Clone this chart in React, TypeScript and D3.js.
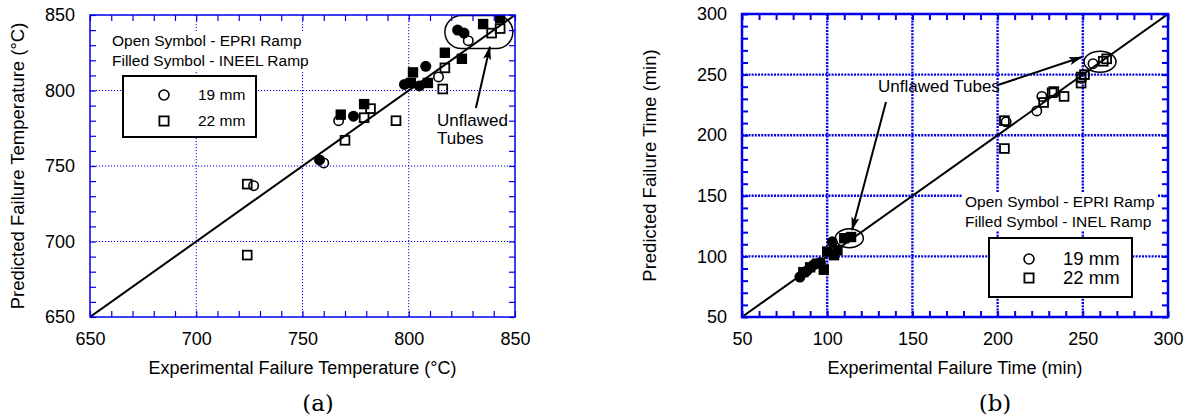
import React, { useEffect, useRef } from "react";
import * as d3 from "d3";

type Pt = [number, number];

// (a) failure temperature, predicted vs experimental (°C)
const tempOpenCircles: Pt[] = [[727, 737], [760, 752], [767, 780], [814, 809], [828, 833]];
const tempOpenSquares: Pt[] = [
	[724, 738], [724, 691], [770, 767], [779, 782], [782, 788],
	[794, 780], [816, 801], [817, 815], [839, 838], [843, 841],
];
const tempFilledCircles: Pt[] = [[758, 754], [774, 783], [798, 804], [805, 803], [808, 816], [823, 840], [826, 838]];
const tempFilledSquares: Pt[] = [
	[768, 784], [779, 791], [802, 812], [801, 805], [809, 805],
	[817, 825], [825, 821], [835, 844], [843, 848],
];

// (b) failure time, predicted vs experimental (min)
const timeOpenCircles: Pt[] = [[205, 211], [223, 220], [226, 232], [249, 247], [256, 259]];
const timeOpenSquares: Pt[] = [
	[204, 212], [204, 189], [227, 227], [232, 235], [233, 236], [239, 232],
	[249, 248], [251, 250], [249, 243], [262, 261], [264, 263],
];
const timeFilledCircles: Pt[] = [[84, 83], [88, 88], [92, 93], [96, 95], [103, 112]];
const timeFilledSquares: Pt[] = [
	[86, 87], [90, 91], [94, 94], [98, 89], [100, 104],
	[104, 101], [106, 105], [110, 115], [114, 116],
];

const legendLabels = ["19 mm", "22 mm"];

const FONT = "'Liberation Sans', Arial, sans-serif";
const BLUE = "#0000e8";

interface Panel {
	left: number; right: number; top: number; bottom: number;
	domain: [number, number]; major: number; minor: number;
	gridWidth: number; gridDash: string; frameWidth: number; tickWidth: number;
	xTitle: string; yTitle: string; yTitleX: number; tag: string; tagX: number;
	openCircles: Pt[]; openSquares: Pt[]; filledCircles: Pt[]; filledSquares: Pt[];
	notes: string[]; noteX: number; noteY: number;
	legend: { x: number; y: number; w: number; h: number; symX: number; textX: number; fontSize: number; rows: number[] };
	// unflawed-tube annotations, in data units
	rings: { cx: number; cy: number; rx: number; ry: number; round: boolean }[];
	arrows: [Pt, Pt][];
	callout: { lines: string[]; at: Pt; lineGap: number };
}

const panels: Panel[] = [
	{
		left: 90, right: 515, top: 15, bottom: 317,
		domain: [650, 850], major: 50, minor: 10,
		gridWidth: 1, gridDash: "1.2,1.8", frameWidth: 1.5, tickWidth: 1.2,
		xTitle: "Experimental Failure Temperature (°C)",
		yTitle: "Predicted Failure Temperature (°C)",
		yTitleX: 24, tag: "(a)", tagX: 318,
		openCircles: tempOpenCircles, openSquares: tempOpenSquares,
		filledCircles: tempFilledCircles, filledSquares: tempFilledSquares,
		notes: ["Open Symbol - EPRI Ramp", "Filled Symbol - INEEL Ramp"],
		noteX: 112, noteY: 46,
		legend: { x: 123, y: 76, w: 133, h: 61, symX: 164, textX: 198, fontSize: 15.5, rows: [95, 121] },
		rings: [{ cx: 833, cy: 838.7, rx: 16, ry: 10.9, round: true }],
		arrows: [[[831.6, 788.4], [838.2, 829]]],
		callout: { lines: ["Unflawed", "Tubes"], at: [813.3, 776.5], lineGap: 18 },
	},
	{
		left: 742, right: 1168, top: 14, bottom: 317,
		domain: [50, 300], major: 50, minor: 10,
		gridWidth: 2.4, gridDash: "2,1.2", frameWidth: 2.5, tickWidth: 2,
		xTitle: "Experimental Failure Time (min)",
		yTitle: "Predicted Failure Time (min)",
		yTitleX: 656, tag: "(b)", tagX: 995,
		openCircles: timeOpenCircles, openSquares: timeOpenSquares,
		filledCircles: timeFilledCircles, filledSquares: timeFilledSquares,
		notes: ["Open Symbol - EPRI Ramp", "Filled Symbol - INEL Ramp"],
		noteX: 965, noteY: 207,
		legend: { x: 989, y: 238, w: 143, h: 59, symX: 1029, textX: 1063, fontSize: 18.5, rows: [259, 278] },
		rings: [
			{ cx: 113, cy: 115, rx: 8.2, ry: 7.8, round: false },
			{ cx: 260.1, cy: 260.6, rx: 9.4, ry: 8.7, round: false },
		],
		arrows: [
			[[200.2, 241.4], [249.5, 264.5]],
			[[134.5, 227.4], [114.6, 121.8]],
		],
		callout: { lines: ["Unflawed Tubes"], at: [129.8, 235.6], lineGap: 0 },
	},
];

function drawPanel(svg: d3.Selection<SVGSVGElement, unknown, null, undefined>, p: Panel, idx: number) {
	const x = d3.scaleLinear().domain(p.domain).range([p.left, p.right]);
	const y = d3.scaleLinear().domain(p.domain).range([p.bottom, p.top]);
	const minorTicks = d3.range(p.domain[0], p.domain[1] + 0.01, p.minor);
	const majorTicks = d3.range(p.domain[0], p.domain[1] + 0.01, p.major);
	const g = svg.append("g");

	const clipId = `clip-${idx}`;
	g.append("clipPath").attr("id", clipId)
		.append("rect")
		.attr("x", p.left).attr("y", p.top)
		.attr("width", p.right - p.left).attr("height", p.bottom - p.top);

	// dotted grid at the major ticks
	g.selectAll(".gx").data(majorTicks.slice(1, -1)).join("line")
		.attr("x1", d => x(d)).attr("x2", d => x(d))
		.attr("y1", p.top).attr("y2", p.bottom)
		.attr("stroke", BLUE).attr("stroke-width", p.gridWidth).attr("stroke-dasharray", p.gridDash);
	g.selectAll(".gy").data(majorTicks.slice(1, -1)).join("line")
		.attr("y1", d => y(d)).attr("y2", d => y(d))
		.attr("x1", p.left).attr("x2", p.right)
		.attr("stroke", BLUE).attr("stroke-width", p.gridWidth).attr("stroke-dasharray", p.gridDash);

	// note text, white box behind it hides the grid
	const notes = g.append("g").style("font-family", FONT).style("font-size", "15.5px");
	const texts = notes.selectAll("text").data(p.notes).join("text")
		.attr("x", p.noteX).attr("y", (_, i) => p.noteY + i * 20).text(d => d);
	const boxes = texts.nodes().map(n => (n as SVGTextElement).getBBox());
	const bx0 = d3.min(boxes, b => b.x)! - 3;
	const bx1 = d3.max(boxes, b => b.x + b.width)! + 3;
	const by0 = d3.min(boxes, b => b.y)! - 1;
	const by1 = d3.max(boxes, b => b.y + b.height)! + 1;
	notes.insert("rect", "text").attr("x", bx0).attr("y", by0)
		.attr("width", bx1 - bx0).attr("height", by1 - by0).attr("fill", "#fff");

	const plot = g.append("g").attr("clip-path", `url(#${clipId})`);

	// 1:1 line
	plot.append("path")
		.datum([p.domain[0], p.domain[1]])
		.attr("fill", "none").attr("stroke", "#000").attr("stroke-width", 2)
		.attr("d", d3.line<number>().x(d => x(d)).y(d => y(d)));

	// unflawed tubes ring + arrows + label
	p.rings.forEach(r => {
		const w = x(r.cx + r.rx) - x(r.cx - r.rx);
		const h = y(r.cy - r.ry) - y(r.cy + r.ry);
		if (r.round) {
			plot.append("rect")
				.attr("x", x(r.cx - r.rx)).attr("y", y(r.cy + r.ry))
				.attr("width", w).attr("height", h).attr("rx", h / 2)
				.attr("fill", "none").attr("stroke", "#000").attr("stroke-width", 1.5);
		} else {
			plot.append("ellipse")
				.attr("cx", x(r.cx)).attr("cy", y(r.cy)).attr("rx", w / 2).attr("ry", h / 2)
				.attr("fill", "none").attr("stroke", "#000").attr("stroke-width", 1.5);
		}
	});
	p.arrows.forEach(([a, b]) => {
		g.append("line")
			.attr("x1", x(a[0])).attr("y1", y(a[1]))
			.attr("x2", x(b[0])).attr("y2", y(b[1]))
			.attr("stroke", "#000").attr("stroke-width", 2)
			.attr("marker-end", "url(#arrowhead)");
	});
	g.append("g").style("font-family", FONT).style("font-size", "17px")
		.selectAll("text").data(p.callout.lines).join("text")
		.attr("x", x(p.callout.at[0]))
		.attr("y", (_, i) => y(p.callout.at[1]) + i * p.callout.lineGap)
		.text(d => d);

	// markers: filled first, open outlines on top
	const half = 5.2;
	plot.selectAll(".fs").data(p.filledSquares).join("rect")
		.attr("x", d => x(d[0]) - half).attr("y", d => y(d[1]) - half)
		.attr("width", half * 2).attr("height", half * 2).attr("fill", "#000");
	plot.selectAll(".fc").data(p.filledCircles).join("circle")
		.attr("cx", d => x(d[0])).attr("cy", d => y(d[1])).attr("r", half + 0.3).attr("fill", "#000");
	plot.selectAll(".os").data(p.openSquares).join("rect")
		.attr("x", d => x(d[0]) - half + 0.8).attr("y", d => y(d[1]) - half + 0.8)
		.attr("width", half * 2 - 1.6).attr("height", half * 2 - 1.6)
		.attr("fill", "none").attr("stroke", "#000").attr("stroke-width", 1.8);
	plot.selectAll(".oc").data(p.openCircles).join("circle")
		.attr("cx", d => x(d[0])).attr("cy", d => y(d[1])).attr("r", half - 0.5)
		.attr("fill", "none").attr("stroke", "#000").attr("stroke-width", 1.6);

	// legend box
	const lg = g.append("g");
	lg.append("rect").attr("x", p.legend.x).attr("y", p.legend.y)
		.attr("width", p.legend.w).attr("height", p.legend.h)
		.attr("fill", "#fff").attr("stroke", "#000").attr("stroke-width", 2);
	lg.append("circle").attr("cx", p.legend.symX).attr("cy", p.legend.rows[0]).attr("r", 5)
		.attr("fill", "none").attr("stroke", "#000").attr("stroke-width", 1.6);
	lg.append("rect").attr("x", p.legend.symX - 4.6).attr("y", p.legend.rows[1] - 4.6)
		.attr("width", 9.2).attr("height", 9.2)
		.attr("fill", "none").attr("stroke", "#000").attr("stroke-width", 1.8);
	lg.selectAll("text").data(legendLabels).join("text")
		.attr("x", p.legend.textX).attr("y", (_, i) => p.legend.rows[i])
		.attr("dy", "0.35em")
		.style("font-family", FONT).style("font-size", `${p.legend.fontSize}px`)
		.text(d => d);

	// frame
	g.append("rect")
		.attr("x", p.left).attr("y", p.top)
		.attr("width", p.right - p.left).attr("height", p.bottom - p.top)
		.attr("fill", "none").attr("stroke", BLUE).attr("stroke-width", p.frameWidth);

	// inward ticks on all four sides, labels only on the majors
	const label = (d: d3.NumberValue) => (+d % p.major === 0 ? String(d) : "");
	const style = (sel: d3.Selection<SVGGElement, unknown, null, undefined>) => {
		sel.attr("font-family", FONT).attr("font-size", 18);
		sel.select(".domain").remove();
		sel.selectAll(".tick line").attr("stroke", BLUE).attr("stroke-width", p.tickWidth);
		sel.selectAll(".tick text").attr("fill", "#000");
	};
	g.append("g").attr("transform", `translate(0,${p.bottom})`)
		.call(d3.axisBottom(x).tickValues(minorTicks).tickSize(-6).tickSizeOuter(0).tickPadding(15).tickFormat(label))
		.call(style);
	g.append("g").attr("transform", `translate(0,${p.top})`)
		.call(d3.axisTop(x).tickValues(minorTicks).tickSize(-6).tickSizeOuter(0).tickFormat(() => ""))
		.call(style);
	g.append("g").attr("transform", `translate(${p.left},0)`)
		.call(d3.axisLeft(y).tickValues(minorTicks).tickSize(-6).tickSizeOuter(0).tickPadding(15).tickFormat(label))
		.call(style);
	g.append("g").attr("transform", `translate(${p.right},0)`)
		.call(d3.axisRight(y).tickValues(minorTicks).tickSize(-6).tickSizeOuter(0).tickFormat(() => ""))
		.call(style);

	// axis titles
	const mid = (p.left + p.right) / 2;
	g.append("text")
		.attr("x", mid).attr("y", 374).attr("text-anchor", "middle")
		.style("font-family", FONT).style("font-size", "18px")
		.text(p.xTitle);
	g.append("text")
		.attr("transform", `translate(${p.yTitleX},${(p.top + p.bottom) / 2}) rotate(-90)`)
		.attr("text-anchor", "middle")
		.style("font-family", FONT).style("font-size", "18.5px")
		.text(p.yTitle);

	// panel tag
	g.append("text")
		.attr("x", p.tagX).attr("y", 411).attr("text-anchor", "middle")
		.style("font-family", "'DejaVu Serif', serif").style("font-size", "23px")
		.text(p.tag);
}

function Charts() {
	const ref = useRef<SVGSVGElement>(null);

	useEffect(() => {
		const svg = d3.select(ref.current!);
		svg.selectAll("*").remove();

		// narrow filled arrowhead
		svg.append("defs").append("marker")
			.attr("id", "arrowhead")
			.attr("viewBox", "0 0 14 10")
			.attr("refX", 13).attr("refY", 5)
			.attr("markerWidth", 14).attr("markerHeight", 10)
			.attr("markerUnits", "userSpaceOnUse")
			.attr("orient", "auto")
			.append("path")
			.attr("d", "M0,1 L14,5 L0,9 L3,5 Z")
			.attr("fill", "#000");

		panels.forEach((p, i) => drawPanel(svg, p, i));
	}, []);

	return <svg ref={ref} width={1194} height={418} style={{ position: "absolute", left: 0, top: 0, background: "#fff" }} />;
}

export default function App() {
	return <Charts />;
}
